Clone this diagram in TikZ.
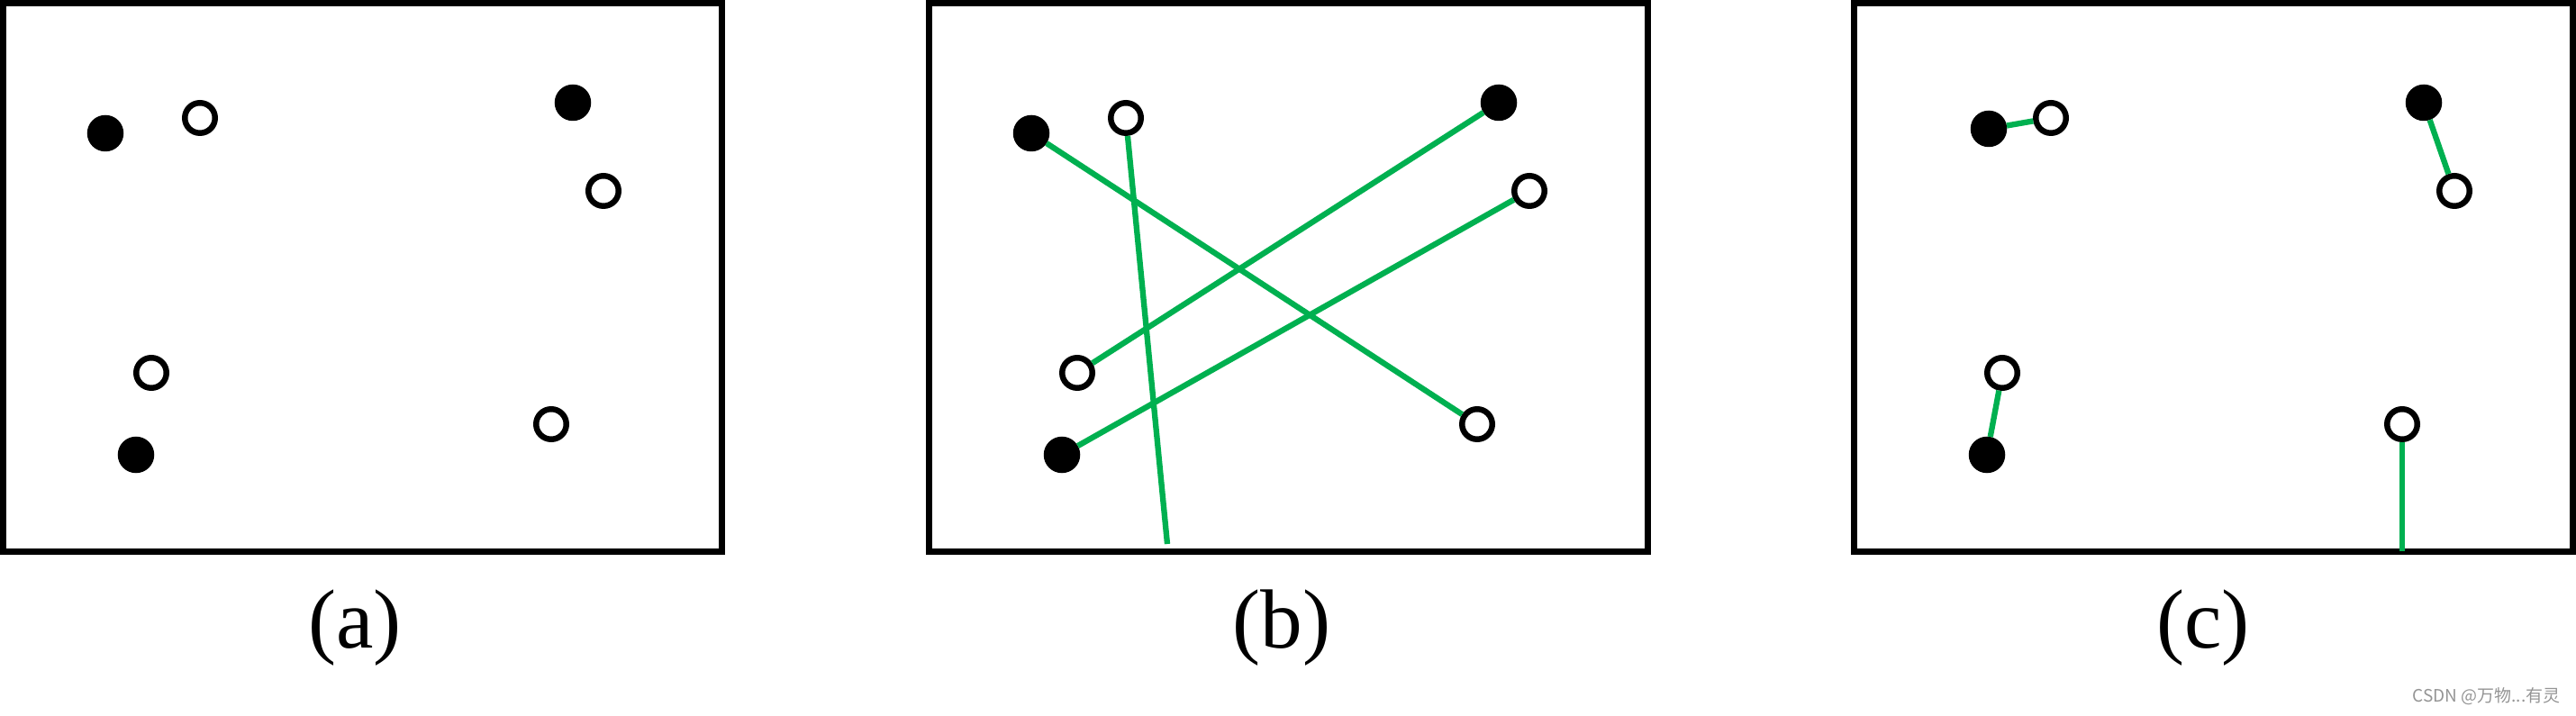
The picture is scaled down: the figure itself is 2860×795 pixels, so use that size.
\documentclass[tikz,border=0pt]{standalone}
\usepackage{fontspec}
\setmainfont{Liberation Serif}
\newfontfamily\cjkfont{Noto Sans CJK SC}
\definecolor{lineGreen}{RGB}{0,176,80}
\begin{document}
\begin{tikzpicture}[x=0.01cm,y=-0.01cm,
  panel/.style={draw=black,line width=1.99pt},
  fdot/.style={circle,draw=black,fill=black,line width=1.84pt,minimum size=0.34cm,inner sep=0pt},
  odot/.style={circle,draw=black,fill=white,line width=1.84pt,minimum size=0.335cm,inner sep=0pt},
  greenlink/.style={draw=lineGreen,line width=1.8pt},
  captext/.style={font=\fontsize{26.5}{28}\selectfont,anchor=base,inner sep=0pt},
  wmtext/.style={font=\cjkfont\fontsize{5.4}{6}\selectfont,text=black!42,anchor=base east,inner sep=0pt}
]
\useasboundingbox (0,0) rectangle (2860,795);

% panel frames
\draw[panel] (3.5,3.5) rectangle (801.5,612.5);
\draw[panel] (1031.5,3.5) rectangle (1829.5,612.5);
\draw[panel] (2058.5,3.5) rectangle (2856.5,612.5);

% ---- panel (a)
\node[fdot] (a-f1) at (117,148) {};
\node[odot] (a-o1) at (222,131) {};
\node[fdot] (a-f2) at (636,114) {};
\node[odot] (a-o2) at (670,212) {};
\node[odot] (a-o3) at (168,414) {};
\node[fdot] (a-f3) at (151,505) {};
\node[odot] (a-o4) at (612,471) {};

% ---- panel (b)
\node[fdot] (b-f1) at (1145,148) {};
\node[odot] (b-o1) at (1250,131) {};
\node[fdot] (b-f2) at (1664,114) {};
\node[odot] (b-o2) at (1698,212) {};
\node[odot] (b-o3) at (1196,414) {};
\node[fdot] (b-f3) at (1179,505) {};
\node[odot] (b-o4) at (1640,471) {};
\coordinate (b-end) at (1296,604);

\draw[greenlink] (b-f1) -- (b-o4);
\draw[greenlink] (b-o1) -- (b-end);
\draw[greenlink] (b-f2) -- (b-o3);
\draw[greenlink] (b-o2) -- (b-f3);

% ---- panel (c)
\node[fdot] (c-f1) at (2208,143) {};
\node[odot] (c-o1) at (2277,131) {};
\node[fdot] (c-f2) at (2691,114) {};
\node[odot] (c-o2) at (2725,212) {};
\node[odot] (c-o3) at (2223,414) {};
\node[fdot] (c-f3) at (2206,505) {};
\node[odot] (c-o4) at (2667,471) {};
\coordinate (c-end) at (2667,612.5);

\draw[greenlink] (c-f1) -- (c-o1);
\draw[greenlink] (c-f2) -- (c-o2);
\draw[greenlink] (c-o3) -- (c-f3);
\draw[greenlink] (c-o4) -- (c-end);

% captions
\node[captext] (cap-a) at (394,720) {(a)};
\node[captext] (cap-b) at (1423,720) {(b)};
\node[captext] (cap-c) at (2446,720) {(c)};

% watermark
\node[wmtext] (wm) at (2843,780) {CSDN @万物...有灵};
\end{tikzpicture}
\end{document}
